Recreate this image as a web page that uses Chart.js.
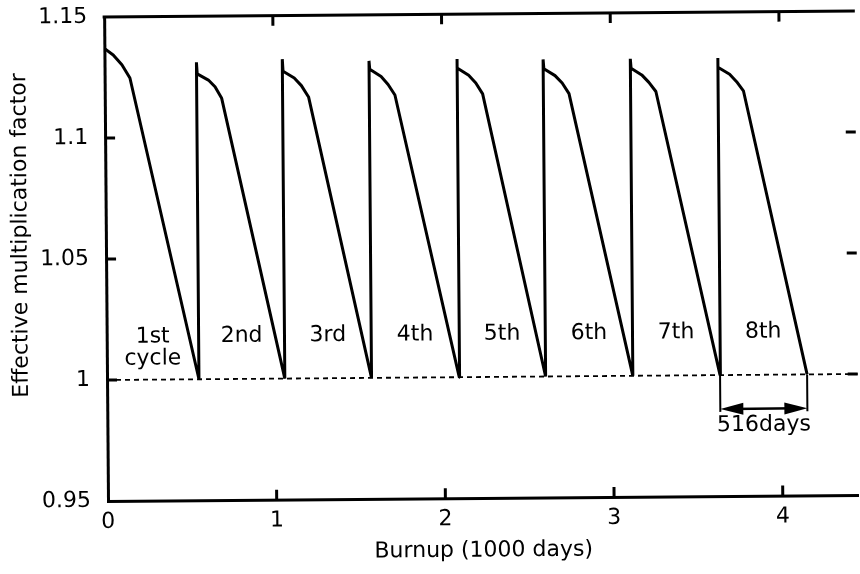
<!DOCTYPE html>
<html>
<head>
<meta charset="utf-8">
<title>Effective multiplication factor vs burnup</title>
<script src="https://cdn.jsdelivr.net/npm/chart.js@4/dist/chart.umd.min.js"></script>
<style>
    html, body { margin: 0; padding: 0; background: #fff; overflow: hidden; }
    #keff-chart { display: block; }
</style>
</head>
<body>
<canvas id="keff-chart" width="860" height="574"></canvas>
<script>
// burnup in 1000 days, k-eff along the eight refuelling cycles
const burnup = [
    0, 0.052, 0.103, 0.150, 0.545,
    0.545, 0.549, 0.615, 0.654, 0.693, 1.054,
    1.054, 1.058, 1.124, 1.166, 1.208, 1.568,
    1.568, 1.572, 1.639, 1.680, 1.720, 2.088,
    2.088, 2.092, 2.158, 2.200, 2.240, 2.600,
    2.600, 2.604, 2.670, 2.712, 2.752, 3.117,
    3.117, 3.121, 3.184, 3.226, 3.267, 3.634,
    3.634, 3.638, 3.705, 3.746, 3.786, 4.150
];
const keff = [
    1.137, 1.1343, 1.1302, 1.1247, 1.000,
    1.131, 1.1262, 1.1236, 1.1208, 1.1160, 1.000,
    1.132, 1.1270, 1.1242, 1.1210, 1.1163, 1.000,
    1.131, 1.1275, 1.1245, 1.1212, 1.1168, 1.000,
    1.1315, 1.1278, 1.1247, 1.1215, 1.1170, 1.000,
    1.131, 1.1272, 1.1243, 1.1212, 1.1168, 1.000,
    1.131, 1.1271, 1.1243, 1.1212, 1.1174, 1.000,
    1.131, 1.1272, 1.1243, 1.1212, 1.1174, 1.000
];

// end of each cycle (k-eff back down to 1)
const cycleEnds = [0.545, 1.054, 1.568, 2.088, 2.600, 3.117, 3.634, 4.150];
const cycleNames = [['1st', 'cycle'], '2nd', '3rd', '4th', '5th', '6th', '7th', '8th'];

// criticality reference line
const criticalBurnup = [0, 4.45];
const criticalK = [1, 1];

const xTicks = [0, 1, 2, 3, 4];
const yTicks = [0.95, 1, 1.05, 1.1, 1.15];

const INK = '#000';
const FONT_FAMILY = '"DejaVu Sans", "Liberation Sans", Arial, sans-serif';
const FONT_SIZE = 22;
const TICK_LEN = 10;
const TILT = 0.008;          // radians, counter-clockwise
const LABEL_K = 1.0177;      // height of the cycle labels
const SPAN_K = 0.986;        // height of the 516-day arrow
const SPAN_DROP_K = 0.9848;
const SPAN_TEXT_K = 0.9792;

const points = burnup.map((b, i) => ({ x: b, y: keff[i] }));
const criticalPoints = criticalBurnup.map((b, i) => ({ x: b, y: criticalK[i] }));

// rotates everything drawn about the lower-left corner of the plot
const tilt = {
    id: 'tilt',
    beforeDraw(chart) {
        const { ctx, chartArea } = chart;
        ctx.save();
        ctx.translate(chartArea.left, chartArea.bottom);
        ctx.rotate(-TILT);
        ctx.translate(-chartArea.left, -chartArea.bottom);
    },
    afterDraw(chart) {
        chart.ctx.restore();
    }
};

function arrowHead(ctx, tipX, tipY, dir) {
    ctx.beginPath();
    ctx.moveTo(tipX, tipY);
    ctx.lineTo(tipX + dir * 23, tipY - 6);
    ctx.lineTo(tipX + dir * 23, tipY + 6);
    ctx.closePath();
    ctx.fill();
}

// frame top, inward ticks, cycle labels, cycle length arrow, y title
const figureMarks = {
    id: 'figureMarks',
    afterDatasetsDraw(chart) {
        const { ctx, chartArea: a } = chart;
        const x = chart.scales.x;
        const y = chart.scales.y;
        ctx.save();
        ctx.strokeStyle = INK;
        ctx.fillStyle = INK;

        ctx.lineWidth = 3;
        ctx.beginPath();
        ctx.moveTo(a.left - 1.5, a.top);
        ctx.lineTo(a.right, a.top);
        ctx.stroke();

        ctx.beginPath();
        xTicks.forEach(v => {
            if (v <= x.min) return;
            const px = x.getPixelForValue(v);
            ctx.moveTo(px, a.top);
            ctx.lineTo(px, a.top + TICK_LEN);
            ctx.moveTo(px, a.bottom);
            ctx.lineTo(px, a.bottom - TICK_LEN);
        });
        yTicks.forEach(v => {
            if (v <= y.min || v >= y.max) return;
            const py = y.getPixelForValue(v);
            ctx.moveTo(a.left, py);
            ctx.lineTo(a.left + TICK_LEN, py);
            ctx.moveTo(a.right, py);
            ctx.lineTo(a.right - TICK_LEN, py);
        });
        ctx.stroke();

        ctx.font = `${FONT_SIZE}px ${FONT_FAMILY}`;
        ctx.textAlign = 'center';
        ctx.textBaseline = 'middle';
        cycleNames.forEach((name, i) => {
            const from = i === 0 ? 0 : cycleEnds[i - 1];
            const px = x.getPixelForValue((from + cycleEnds[i]) / 2);
            const py = y.getPixelForValue(LABEL_K);
            [].concat(name).forEach((line, j) => ctx.fillText(line, px, py + j * FONT_SIZE));
        });

        // length of the last cycle
        const n = cycleEnds.length;
        const x0 = x.getPixelForValue(cycleEnds[n - 2]);
        const x1 = x.getPixelForValue(cycleEnds[n - 1]);
        const yTop = y.getPixelForValue(1);
        const yDrop = y.getPixelForValue(SPAN_DROP_K);
        const yArrow = y.getPixelForValue(SPAN_K);
        ctx.lineWidth = 2;
        ctx.beginPath();
        ctx.moveTo(x0, yTop);
        ctx.lineTo(x0, yDrop);
        ctx.moveTo(x1, yTop);
        ctx.lineTo(x1, yDrop);
        ctx.stroke();
        ctx.lineWidth = 2.5;
        ctx.beginPath();
        ctx.moveTo(x0 + 10, yArrow);
        ctx.lineTo(x1 - 10, yArrow);
        ctx.stroke();
        arrowHead(ctx, x0, yArrow, 1);
        arrowHead(ctx, x1, yArrow, -1);
        const days = Math.round((cycleEnds[n - 1] - cycleEnds[n - 2]) * 1000);
        ctx.fillText(`${days}days`, (x0 + x1) / 2, y.getPixelForValue(SPAN_TEXT_K));

        ctx.save();
        ctx.translate(y.left + 23, y.getPixelForValue(1.06));
        ctx.rotate(-Math.PI / 2);
        ctx.fillText('Effective multiplication factor', 0, 0);
        ctx.restore();

        ctx.restore();
    }
};

const tickFont = { family: FONT_FAMILY, size: FONT_SIZE };

new Chart(document.getElementById('keff-chart'), {
    type: 'scatter',
    data: {
        datasets: [
            {
                label: 'k-eff',
                data: points,
                showLine: true,
                borderColor: INK,
                borderWidth: 3,
                borderJoinStyle: 'bevel',
                borderCapStyle: 'butt',
                pointRadius: 0,
                tension: 0
            },
            {
                label: 'k = 1',
                data: criticalPoints,
                showLine: true,
                borderColor: INK,
                borderWidth: 1.8,
                borderDash: [5, 4],
                pointRadius: 0
            }
        ]
    },
    options: {
        responsive: false,
        animation: false,
        events: [],
        layout: { padding: { top: 17, right: 1.3, bottom: 0, left: 0 } },
        plugins: {
            legend: { display: false },
            tooltip: { enabled: false }
        },
        scales: {
            x: {
                type: 'linear',
                min: 0,
                max: 4.45,
                afterFit: s => {
                    s.height = 73;
                    s.paddingLeft = 0;
                    s.paddingRight = 0;
                },
                afterBuildTicks: s => { s.ticks = xTicks.map(v => ({ value: v })); },
                grid: { display: false, drawTicks: false },
                border: { display: true, color: INK, width: 3 },
                ticks: { color: INK, font: tickFont, padding: 8, maxRotation: 0, callback: v => String(v) },
                title: {
                    display: true,
                    text: 'Burnup (1000 days)',
                    color: INK,
                    font: tickFont,
                    padding: { top: 0, bottom: 7 }
                }
            },
            y: {
                type: 'linear',
                min: 0.95,
                max: 1.15,
                afterFit: s => {
                    s.width = 108;
                    s.paddingTop = 0;
                    s.paddingBottom = 0;
                },
                afterBuildTicks: s => { s.ticks = yTicks.map(v => ({ value: v })); },
                grid: { display: false, drawTicks: false },
                border: { display: true, color: INK, width: 3 },
                ticks: { color: INK, font: tickFont, padding: 17, callback: v => String(v) }
            }
        }
    },
    plugins: [tilt, figureMarks]
});
</script>
</body>
</html>
